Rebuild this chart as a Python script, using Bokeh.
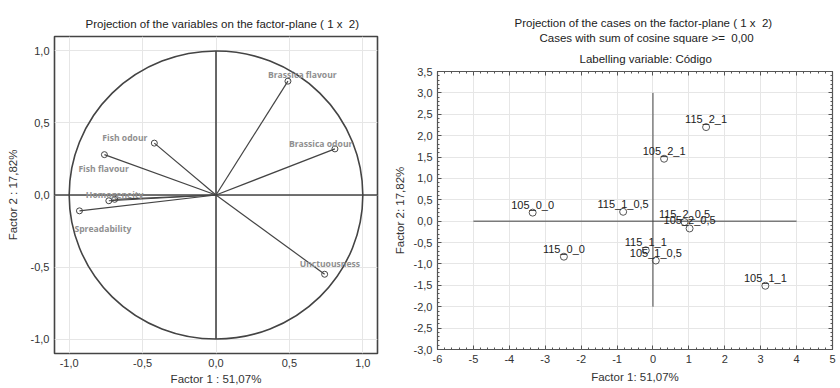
from bokeh.plotting import figure
from bokeh.models import (FixedTicker, CustomJSTickFormatter, LinearAxis, Title, Span,
                          LabelSet, ColumnDataSource)
from bokeh.layouts import row, column
from bokeh.embed import file_html
from bokeh.resources import INLINE
from bokeh.core.properties import value

# ---------------- data: variables (factor loadings) ----------------
var_names = ["Brassica flavour", "Brassica odour", "Fish odour", "Fish flavour",
             "Homogeneity", "", "Spreadability", "Unctuousness"]
var_f1 = [0.49, 0.81, -0.42, -0.76, -0.73, -0.69, -0.93, 0.74]
var_f2 = [0.79, 0.32, 0.36, 0.28, -0.04, -0.03, -0.11, -0.55]

# ---------------- data: cases (factor scores) ----------------
case_names = ["105_0_0", "115_0_0", "105_1_0,5", "115_1_0,5", "105_1_1",
              "115_1_1", "105_2_0,5", "115_2_0,5", "105_2_1", "115_2_1"]
case_f1 = [-3.35, -2.48, 0.08, -0.83, 3.13, -0.20, 1.02, 0.88, 0.31, 1.48]
case_f2 = [0.20, -0.83, -0.92, 0.22, -1.51, -0.68, -0.17, -0.02, 1.46, 2.20]

# tick values
left_ticks = [-1.0, -0.5, 0.0, 0.5, 1.0]
right_xticks = [-6, -5, -4, -3, -2, -1, 0, 1, 2, 3, 4, 5]
right_yticks = [-3.0, -2.5, -2.0, -1.5, -1.0, -0.5, 0.0, 0.5, 1.0, 1.5, 2.0, 2.5, 3.0, 3.5]

# layout-only: label pixel offsets for the variable names
var_label_dx = [-20, -46, -52, -26, -23, 0, -5, -25]
var_label_dy = [6, 5, 5, -14, 6, 0, -18, 10]

FONT = "Liberation Sans"
TSIZE = "11.5px"

fmt1 = CustomJSTickFormatter(code="return tick.toFixed(1).replace('.', ',');")
fmt1b = CustomJSTickFormatter(code="return tick.toFixed(1).replace('.', ',');")
fmt0 = CustomJSTickFormatter(code="return tick.toFixed(0);")
fmt_blank_x = CustomJSTickFormatter(code="return '';")
fmt_blank_y = CustomJSTickFormatter(code="return '';")


def style_axis(ax, label):
    ax.axis_label = label
    ax.axis_label_text_font = FONT
    ax.axis_label_text_font_size = TSIZE
    ax.axis_label_text_font_style = "normal"
    ax.axis_label_text_color = "#333333"
    ax.major_label_text_font = FONT
    ax.major_label_text_font_size = "11px"
    ax.major_label_text_color = "#333333"
    ax.axis_line_color = None


# ================= left: variables =================
p1 = figure(width=390, height=387, x_range=(-1.1, 1.1), y_range=(-1.1, 1.1),
            output_backend="svg", toolbar_location=None,
            min_border_left=54, min_border_right=13, min_border_top=36, min_border_bottom=34)
p1.title.text = "Projection of the variables on the factor-plane ( 1 x \u00a02)"
p1.title.align = "left"
p1.title.text_font = FONT
p1.title.text_font_size = TSIZE
p1.title.text_font_style = "normal"
p1.title.text_color = "#222222"
p1.title.standoff = 13
p1.title.offset = 31

lt = FixedTicker(ticks=left_ticks, minor_ticks=[])
for ax, lab in ((p1.xaxis[0], "Factor 1 : 51,07%"), (p1.yaxis[0], "Factor 2 : 17,82%")):
    ax.ticker = lt
    ax.formatter = fmt1
    style_axis(ax, lab)
    ax.major_tick_in = 0
    ax.major_tick_out = 0
    ax.minor_tick_in = 0
    ax.minor_tick_out = 0
    ax.major_label_standoff = 5
    ax.axis_label_standoff = 4
p1.xaxis[0].axis_label_standoff = 3
p1.yaxis[0].axis_label_standoff = 9
p1.xgrid.ticker = lt
p1.ygrid.ticker = lt
p1.grid.grid_line_color = "#e6e6e6"
p1.outline_line_color = "#444444"
p1.outline_line_width = 1.6
p1.outline_line_alpha = 1

p1.ellipse(x=0, y=0, width=2, height=2, fill_color=None, line_color="#444444", line_width=1.6)
p1.add_layout(Span(location=0, dimension="width", line_color="#444444", line_width=1.6))
p1.segment(x0=[0], y0=[-1], x1=[0], y1=[1], line_color="#444444", line_width=1.6)

vsrc = ColumnDataSource(dict(x=var_f1, y=var_f2, name=var_names,
                             x0=[0] * len(var_f1), y0=[0] * len(var_f1),
                             dx=var_label_dx, dy=var_label_dy))
p1.segment(x0="x0", y0="y0", x1="x", y1="y", source=vsrc, line_color="#444444", line_width=1.2)
p1.scatter("x", "y", source=vsrc, size=6, marker="circle", fill_color=None,
           line_color="#444444", line_width=1)
p1.add_layout(LabelSet(x="x", y="y", text="name", source=vsrc, x_offset="dx", y_offset="dy",
                       text_font=value("Open Sans"), text_font_size=value("8.6px"),
                       text_font_style=value("bold"),
                       text_color=value("#909090"), text_align=value("left"),
                       text_baseline=value("middle")))

# ================= right: cases =================
p2 = figure(width=448, height=387, x_range=(-6, 5), y_range=(-3.0, 3.5),
            output_backend="svg", toolbar_location=None,
            min_border_left=42, min_border_right=6, min_border_top=71, min_border_bottom=38)
p2.title.text = "Projection of the cases on the factor-plane ( 1 x \u00a02)"

rxt = FixedTicker(ticks=right_xticks,
                  minor_ticks=[round(-6 + 0.2 * i, 1) for i in range(56)])
ryt = FixedTicker(ticks=right_yticks,
                  minor_ticks=[round(-3.0 + 0.1 * i, 1) for i in range(66)])

for ax, lab, tk, fm in ((p2.xaxis[0], "Factor 1: 51,07%", rxt, fmt0),
                        (p2.yaxis[0], "Factor 2: 17,82%", ryt, fmt1b)):
    ax.ticker = tk
    ax.formatter = fm
    style_axis(ax, lab)
    ax.major_tick_in = 4
    ax.major_tick_out = 0
    ax.minor_tick_in = 2
    ax.minor_tick_out = 0
    ax.major_tick_line_color = "#555555"
    ax.minor_tick_line_color = "#555555"
    ax.major_label_standoff = 5
    ax.axis_label_standoff = 5

# mirrored tick-only axes
top_ax = LinearAxis(ticker=rxt, formatter=fmt_blank_x, major_label_standoff=0,
                    axis_line_color=None, major_tick_in=4, major_tick_out=0,
                    minor_tick_in=2, minor_tick_out=0,
                    major_tick_line_color="#555555", minor_tick_line_color="#555555")
right_ax = LinearAxis(ticker=ryt, formatter=fmt_blank_y, major_label_standoff=0,
                      axis_line_color=None, major_tick_in=4, major_tick_out=0,
                      minor_tick_in=2, minor_tick_out=0,
                      major_tick_line_color="#555555", minor_tick_line_color="#555555")
p2.add_layout(top_ax, "above")
p2.add_layout(right_ax, "right")

for t, so, off in (("Labelling variable: Código", 14, 142),
                   ("Cases with sum of cosine square >= \u00a00,00", 0, 102)):
    p2.add_layout(Title(text=t, align="left", text_font=FONT, text_font_size=TSIZE,
                        text_font_style="normal", text_color="#222222", standoff=so,
                        offset=off),
                  "above")
p2.title.align = "left"
p2.title.text_font = FONT
p2.title.text_font_size = TSIZE
p2.title.text_font_style = "normal"
p2.title.text_color = "#222222"
p2.title.standoff = 2
p2.title.offset = 77

p2.xgrid.ticker = rxt
p2.ygrid.ticker = ryt
p2.grid.grid_line_color = "#e6e6e6"
p2.outline_line_color = "#555555"
p2.outline_line_width = 1.2
p2.outline_line_alpha = 1

p2.segment(x0=[-5], y0=[0], x1=[4], y1=[0], line_color="#7a7a7a", line_width=1.6)
p2.segment(x0=[0], y0=[-2], x1=[0], y1=[3], line_color="#444444", line_width=1)

csrc = ColumnDataSource(dict(x=case_f1, y=case_f2, name=case_names))
p2.scatter("x", "y", source=csrc, size=7, marker="circle", fill_color=None,
           line_color="#555555", line_width=1)
p2.add_layout(LabelSet(x="x", y="y", text="name", source=csrc, y_offset=2,
                       text_font=value(FONT), text_font_size=value("11px"),
                       text_color=value("#222222"),
                       text_align=value("center"), text_baseline=value("bottom")))

layout = row(column(p1), column(p2))
open("out.html", "w").write(file_html(layout, INLINE))
